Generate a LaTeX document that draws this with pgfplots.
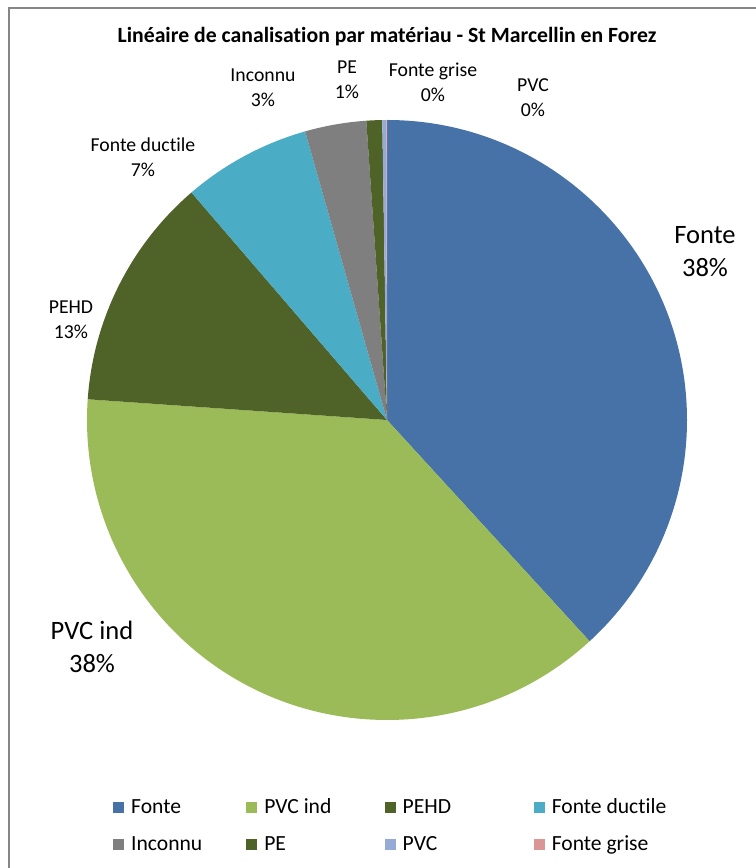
\documentclass[border=0pt]{standalone}
\usepackage{pgfplots}
\pgfplotsset{compat=1.18}
\usepackage{pgfplotstable}
\usepackage{fontspec}
\setmainfont{Carlito}[Ligatures=NoCommon]

\definecolor{c0}{HTML}{4672A8}
\definecolor{c1}{HTML}{9BBB59}
\definecolor{c2}{HTML}{4F6228}
\definecolor{c3}{HTML}{4BACC6}
\definecolor{c4}{HTML}{7F7F7F}
\definecolor{c5}{HTML}{4F6228}
\definecolor{c6}{HTML}{95ABD5}
\definecolor{c7}{HTML}{D99694}
\definecolor{bordergray}{HTML}{868686}

\pgfplotstableread{
name value
Fonte 38.2
{PVC ind} 37.9
PEHD 12.6
{Fonte ductile} 6.9
Inconnu 3.3
PE 0.85
PVC 0.22
{Fonte grise} 0.03
}\piedata

\begin{document}
\begin{tikzpicture}[x=0.75pt,y=0.75pt]
\useasboundingbox (0,0) rectangle (756,868);
\fill[white] (0,0) rectangle (756,868);
\draw[bordergray, line width=1.1pt] (9,-5) -- (9,860) -- (770,860);

% cumulative angles (clockwise from 12 o'clock)
\pgfmathsetmacro{\cum}{90}
\pgfplotsforeachungrouped \i in {0,...,7}{%
  \pgfplotstablegetelem{\i}{value}\of\piedata
  \pgfmathsetmacro{\nxt}{\cum - 3.6*\pgfplotsretval}%
  \expandafter\xdef\csname sa\i\endcsname{\cum}%
  \expandafter\xdef\csname ea\i\endcsname{\nxt}%
  \global\let\cum\nxt
}

\coordinate (pc) at (387,448);

\begin{axis}[
  at={(pc)}, anchor=center,
  scale only axis, width=450pt, height=450pt,
  xmin=-1, xmax=1, ymin=-1, ymax=1,
  hide axis, clip=false,
  legend columns=4,
  legend cell align=left,
  legend style={at={(axis description cs:0.0433,-0.1283)}, anchor=north west, draw=none, fill=none,
    inner sep=0pt, row sep=11.75pt, column sep=0pt,
    font=\fontsize{16.2}{19.4}\selectfont,
    nodes={inner xsep=0pt, inner ysep=0pt, text height=12pt, text depth=4pt},
    /tikz/every odd column/.append style={column sep=5.25pt},
    /tikz/column 2/.append style={column sep=33pt},
    /tikz/column 4/.append style={column sep=40pt},
    /tikz/column 6/.append style={column sep=62pt}},
  legend image code/.code={\fill[#1, draw=none] (0pt,-4.1pt) rectangle (8.2pt,4.1pt);},
]
\pgfplotsinvokeforeach{0,...,7}{
  \fill[c#1] (axis cs:0,0) -- (axis cs:{cos(\csname sa#1\endcsname)},{sin(\csname sa#1\endcsname)})
    arc[start angle=\csname sa#1\endcsname, end angle=\csname ea#1\endcsname, radius=225pt] -- cycle;
}
\addlegendimage{fill=c0}\addlegendentry{Fonte}
\addlegendimage{fill=c1}\addlegendentry{PVC ind}
\addlegendimage{fill=c2}\addlegendentry{PEHD}
\addlegendimage{fill=c3}\addlegendentry{Fonte ductile}
\addlegendimage{fill=c4}\addlegendentry{Inconnu}
\addlegendimage{fill=c5}\addlegendentry{PE}
\addlegendimage{fill=c6}\addlegendentry{PVC}
\addlegendimage{fill=c7}\addlegendentry{Fonte grise}
\end{axis}

\node[font=\bfseries\fontsize{16.3}{19}\selectfont] at (387,831) {Linéaire de canalisation par matériau - St Marcellin en Forez};

\tikzset{small/.style={font=\fontsize{14.8}{18.75}\selectfont, align=center},
         big/.style={font=\fontsize{19.9}{24.75}\selectfont, align=center}}
\node[small] at (263,780.5) {Inconnu\\3\%};
\node[small] at (347,788.5) {PE\\1\%};
\node[small] at (433,785.5) {Fonte grise\\0\%};
\node[small] at (533,770) {PVC\\0\%};
\node[small] at (143,710.5) {Fonte ductile\\7\%};
\node[small] at (71,548.5) {PEHD\\13\%};
\node[big] at (705,616.5) {Fonte\\38\%};
\node[big] at (92,221.5) {PVC ind\\38\%};
\end{tikzpicture}
\end{document}
